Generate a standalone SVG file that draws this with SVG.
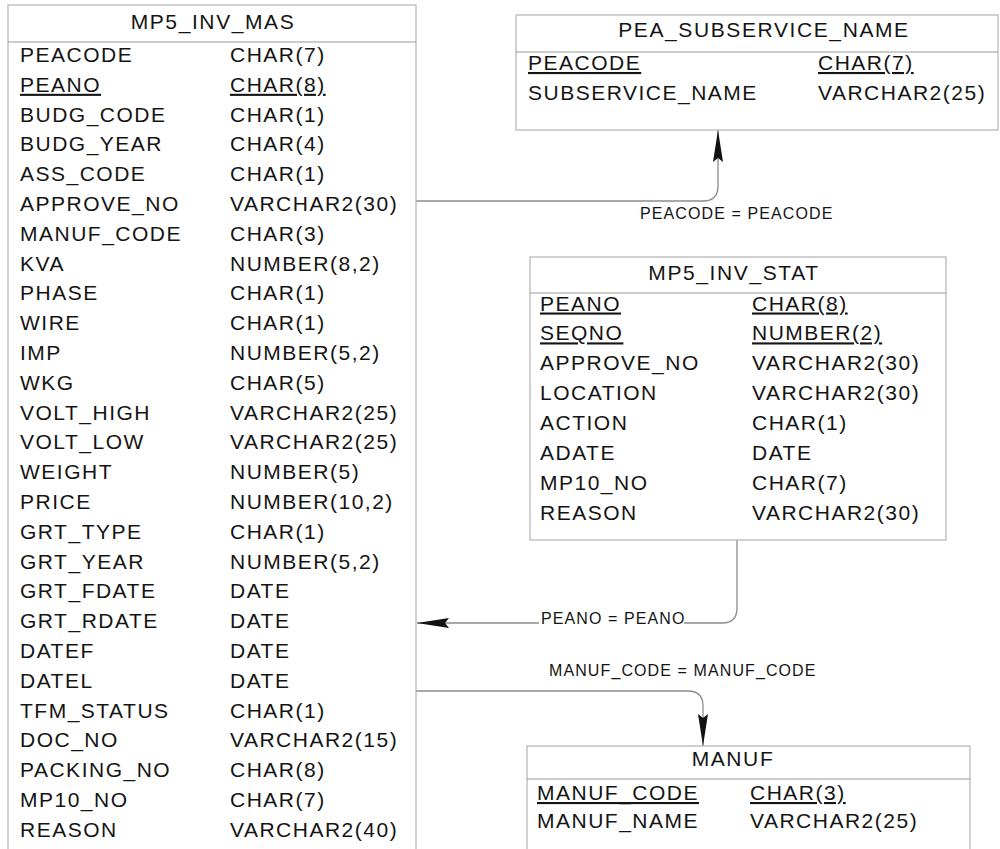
<svg xmlns="http://www.w3.org/2000/svg" width="1000" height="849" viewBox="0 0 1000 849">
  <style>
    .box{fill:#fff;stroke:#b2b2b2;stroke-width:1.2}
    .sep{stroke:#999;stroke-width:1.2}
    .t{font-family:"Liberation Sans",Arial,sans-serif;font-size:21px;letter-spacing:1.5px;fill:#141414}
    .h{text-anchor:middle;letter-spacing:1.6px}
    .pk{text-decoration:underline}
    .conn{fill:none;stroke:#8c8c8c;stroke-width:1.3}
    .lbl{font-family:"Liberation Sans",Arial,sans-serif;font-size:16px;letter-spacing:1.1px;fill:#141414}
  </style>
  <defs>
    <!-- filled wedge used as the arrowhead at the parent end of each relationship -->
    <marker id="arrow" viewBox="0 -5 32 10" refX="32" refY="0" markerWidth="32" markerHeight="10" markerUnits="userSpaceOnUse" orient="auto">
      <path d="M0,-5 L32,0 L0,5 L4,0 Z" fill="#111"/>
    </marker>
  </defs>
  <rect width="1000" height="849" fill="#fff"/>

  <!-- relationships -->
  <g id="connectors">
    <path class="conn" d="M416,201 H703 Q718,201 718,186 V130" marker-end="url(#arrow)"/>
    <text class="lbl" x="640" y="219">PEACODE = PEACODE</text>
    <path class="conn" d="M737,540 V608 Q737,623 722,623 H684 M539,623 H417" marker-end="url(#arrow)"/>
    <text class="lbl" x="541" y="624">PEANO = PEANO</text>
    <path class="conn" d="M416,691 H688 Q703,691 703,706 V746" marker-end="url(#arrow)"/>
    <text class="lbl" x="549" y="676">MANUF_CODE = MANUF_CODE</text>
  </g>

  <!-- MP5_INV_MAS -->
  <g id="mp5_inv_mas">
    <rect class="box" x="8" y="5" width="408" height="860"/>
    <line class="sep" x1="8" y1="42" x2="416" y2="42"/>
    <text class="t h" x="213" y="29">MP5_INV_MAS</text>
    <g class="t">
      <text x="20" y="62">PEACODE</text><text x="230" y="62">CHAR(7)</text>
      <text class="pk" x="20" y="91.8">PEANO</text><text class="pk" x="230" y="91.8">CHAR(8)</text>
      <text x="20" y="121.6">BUDG_CODE</text><text x="230" y="121.6">CHAR(1)</text>
      <text x="20" y="151.4">BUDG_YEAR</text><text x="230" y="151.4">CHAR(4)</text>
      <text x="20" y="181.2">ASS_CODE</text><text x="230" y="181.2">CHAR(1)</text>
      <text x="20" y="211">APPROVE_NO</text><text x="230" y="211">VARCHAR2(30)</text>
      <text x="20" y="240.8">MANUF_CODE</text><text x="230" y="240.8">CHAR(3)</text>
      <text x="20" y="270.6">KVA</text><text x="230" y="270.6">NUMBER(8,2)</text>
      <text x="20" y="300.4">PHASE</text><text x="230" y="300.4">CHAR(1)</text>
      <text x="20" y="330.2">WIRE</text><text x="230" y="330.2">CHAR(1)</text>
      <text x="20" y="360">IMP</text><text x="230" y="360">NUMBER(5,2)</text>
      <text x="20" y="389.8">WKG</text><text x="230" y="389.8">CHAR(5)</text>
      <text x="20" y="419.6">VOLT_HIGH</text><text x="230" y="419.6">VARCHAR2(25)</text>
      <text x="20" y="449.4">VOLT_LOW</text><text x="230" y="449.4">VARCHAR2(25)</text>
      <text x="20" y="479.2">WEIGHT</text><text x="230" y="479.2">NUMBER(5)</text>
      <text x="20" y="509">PRICE</text><text x="230" y="509">NUMBER(10,2)</text>
      <text x="20" y="538.8">GRT_TYPE</text><text x="230" y="538.8">CHAR(1)</text>
      <text x="20" y="568.6">GRT_YEAR</text><text x="230" y="568.6">NUMBER(5,2)</text>
      <text x="20" y="598.4">GRT_FDATE</text><text x="230" y="598.4">DATE</text>
      <text x="20" y="628.2">GRT_RDATE</text><text x="230" y="628.2">DATE</text>
      <text x="20" y="658">DATEF</text><text x="230" y="658">DATE</text>
      <text x="20" y="687.8">DATEL</text><text x="230" y="687.8">DATE</text>
      <text x="20" y="717.6">TFM_STATUS</text><text x="230" y="717.6">CHAR(1)</text>
      <text x="20" y="747.4">DOC_NO</text><text x="230" y="747.4">VARCHAR2(15)</text>
      <text x="20" y="777.2">PACKING_NO</text><text x="230" y="777.2">CHAR(8)</text>
      <text x="20" y="807">MP10_NO</text><text x="230" y="807">CHAR(7)</text>
      <text x="20" y="836.8">REASON</text><text x="230" y="836.8">VARCHAR2(40)</text>
    </g>
  </g>

  <!-- PEA_SUBSERVICE_NAME -->
  <g id="pea_subservice_name">
    <rect class="box" x="516" y="15" width="482" height="115"/>
    <line class="sep" x1="516" y1="52" x2="998" y2="52"/>
    <text class="t h" x="764" y="37">PEA_SUBSERVICE_NAME</text>
    <g class="t">
      <text class="pk" x="528" y="70">PEACODE</text><text class="pk" x="818" y="70">CHAR(7)</text>
      <text x="528" y="100">SUBSERVICE_NAME</text><text x="818" y="100">VARCHAR2(25)</text>
    </g>
  </g>

  <!-- MP5_INV_STAT -->
  <g id="mp5_inv_stat">
    <rect class="box" x="530" y="257" width="416" height="283"/>
    <line class="sep" x1="530" y1="293" x2="946" y2="293"/>
    <text class="t h" x="734" y="280">MP5_INV_STAT</text>
    <g class="t">
      <text class="pk" x="540" y="310.5">PEANO</text><text class="pk" x="752" y="310.5">CHAR(8)</text>
      <text class="pk" x="540" y="340.4">SEQNO</text><text class="pk" x="752" y="340.4">NUMBER(2)</text>
      <text x="540" y="370.3">APPROVE_NO</text><text x="752" y="370.3">VARCHAR2(30)</text>
      <text x="540" y="400.2">LOCATION</text><text x="752" y="400.2">VARCHAR2(30)</text>
      <text x="540" y="430.1">ACTION</text><text x="752" y="430.1">CHAR(1)</text>
      <text x="540" y="460">ADATE</text><text x="752" y="460">DATE</text>
      <text x="540" y="489.9">MP10_NO</text><text x="752" y="489.9">CHAR(7)</text>
      <text x="540" y="519.8">REASON</text><text x="752" y="519.8">VARCHAR2(30)</text>
    </g>
  </g>

  <!-- MANUF -->
  <g id="manuf">
    <rect class="box" x="527" y="746" width="443" height="120"/>
    <line class="sep" x1="527" y1="779" x2="970" y2="779"/>
    <text class="t h" x="733" y="766">MANUF</text>
    <g class="t">
      <text class="pk" x="537" y="800">MANUF_CODE</text><text class="pk" x="750" y="800">CHAR(3)</text>
      <text x="537" y="828">MANUF_NAME</text><text x="750" y="828">VARCHAR2(25)</text>
    </g>
  </g>
</svg>
